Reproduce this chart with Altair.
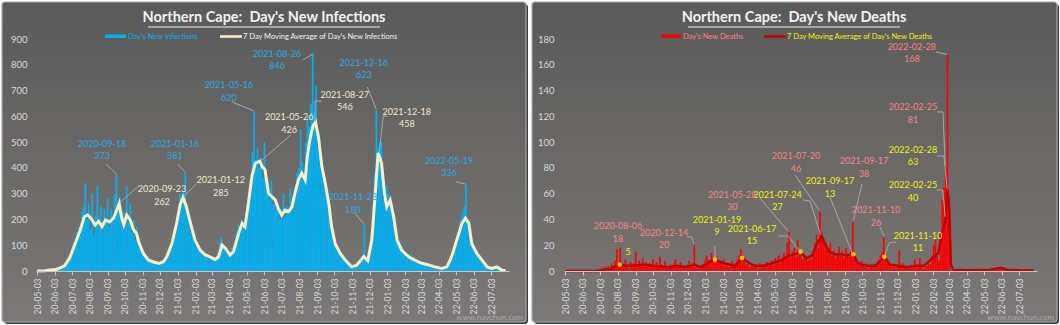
import altair as alt
import pandas as pd

START = pd.Timestamp("2020-05-03")
STEP = 3  # days between stored daily samples

month_ticks = ["2020-05-03", "2020-06-03", "2020-07-03", "2020-08-03", "2020-09-03", "2020-10-03",
               "2020-11-03", "2020-12-03", "2021-01-03", "2021-02-03", "2021-03-03", "2021-04-03",
               "2021-05-03", "2021-06-03", "2021-07-03", "2021-08-03", "2021-09-03", "2021-10-03",
               "2021-11-03", "2021-12-03", "2022-01-03", "2022-02-03", "2022-03-03", "2022-04-03",
               "2022-05-03", "2022-06-03", "2022-07-03"]

# Day's new infections (one sample every STEP days from START)
inf_new = [0, 0, 1, 2, 1, 3, 2, 4, 3, 5,
           4, 6, 8, 10, 12, 15, 20, 28, 40, 60,
           80, 110, 95, 150, 170, 140, 230, 250, 340, 200,
           260, 160, 300, 140, 220, 330, 170, 250, 150, 240,
           200, 280, 170, 240, 210, 300, 373, 250, 290, 180,
           230, 170, 330, 190, 260, 150, 200, 120, 170, 130,
           90, 70, 60, 55, 45, 40, 35, 38, 30, 28,
           25, 35, 30, 40, 45, 60, 55, 80, 100, 130,
           140, 180, 210, 300, 260, 310, 381, 240, 200, 150,
           170, 120, 110, 90, 100, 70, 75, 60, 65, 50,
           60, 45, 50, 40, 55, 70, 110, 130, 90, 80,
           70, 60, 75, 90, 80, 120, 160, 180, 150, 200,
           180, 200, 260, 290, 350, 460, 620, 430, 480, 400,
           440, 360, 500, 330, 300, 280, 350, 260, 290, 240,
           260, 200, 240, 300, 210, 250, 230, 320, 270, 240,
           320, 380, 400, 550, 420, 360, 500, 600, 560, 650,
           846, 620, 720, 480, 520, 400, 380, 320, 300, 260,
           200, 160, 120, 110, 80, 70, 60, 50, 45, 35,
           30, 25, 15, 20, 18, 25, 30, 20, 35, 40,
           180, 45, 50, 80, 140, 260, 380, 623, 480, 500,
           500, 280, 250, 330, 300, 260, 220, 180, 140, 110,
           120, 90, 100, 70, 75, 60, 50, 65, 45, 40,
           40, 35, 30, 38, 25, 30, 22, 25, 20, 18,
           15, 12, 14, 10, 8, 12, 10, 15, 20, 25,
           40, 60, 80, 110, 150, 140, 200, 230, 250, 336,
           180, 200, 130, 110, 80, 70, 55, 50, 40, 35,
           25, 20, 15, 12, 10, 8, 12, 15, 10, 8,
           6, 5, 3]

# 7-day moving average of infections (day offset from START, value)
inf_ma_days = [0, 14, 22, 33, 40, 48, 57, 66, 75, 82,
               88, 94, 101, 107, 113, 119, 126, 133, 138, 143,
               147, 151, 156, 162, 168, 173, 177, 185, 194, 203,
               212, 220, 226, 235, 243, 249, 254, 260, 266, 275,
               284, 293, 301, 310, 316, 322, 328, 336, 342, 351,
               357, 362, 368, 374, 380, 388, 392, 397, 403, 409,
               415, 420, 426, 432, 438, 444, 449, 455, 461, 467,
               470, 474, 478, 481, 485, 490, 496, 502, 508, 513,
               519, 528, 537, 548, 557, 564, 569, 576, 583, 589,
               594, 600, 605, 609, 615, 621, 627, 635, 647, 658,
               670, 682, 693, 705, 714, 722, 731, 740, 746, 752,
               757, 766, 775, 784, 792, 801, 810, 816]
inf_ma_vals = [0, 1, 4, 6, 12, 21, 52, 105, 158, 210,
               218, 204, 178, 192, 172, 198, 190, 205, 232, 262,
               208, 180, 217, 198, 160, 146, 112, 68, 42, 35,
               29, 36, 56, 107, 185, 256, 285, 250, 195, 120,
               81, 62, 55, 45, 55, 101, 88, 62, 75, 146,
               185, 172, 262, 366, 418, 426, 405, 392, 301, 288,
               275, 243, 217, 236, 230, 249, 301, 353, 379, 353,
               431, 495, 540, 565, 578, 521, 405, 340, 262, 172,
               107, 68, 42, 16, 23, 42, 56, 40, 120, 301,
               458, 418, 301, 249, 275, 211, 120, 81, 55, 42,
               30, 23, 16, 10, 16, 55, 120, 185, 205, 185,
               107, 68, 42, 16, 10, 16, 3, 2]

# Day's new deaths (one sample every STEP days from START)
dth_new = [0, 0, 0, 0, 0, 0, 0, 0, 0, 0,
           0, 0, 0, 0, 0, 0, 0, 0, 0, 1,
           0, 2, 1, 3, 0, 4, 2, 6, 3, 8,
           17, 4, 18, 6, 3, 9, 5, 2, 7, 4,
           6, 15, 3, 8, 5, 10, 4, 7, 3, 6,
           5, 9, 3, 7, 4, 11, 5, 3, 8, 4,
           2, 5, 3, 6, 9, 4, 3, 7, 2, 4,
           3, 5, 8, 4, 6, 20, 3, 2, 4, 3,
           5, 8, 12, 9, 7, 14, 10, 6, 11, 8,
           7, 5, 9, 4, 6, 3, 5, 8, 4, 6,
           9, 12, 17, 10, 8, 5, 6, 3, 4, 5,
           3, 5, 2, 6, 4, 3, 5, 7, 4, 6,
           8, 5, 10, 7, 12, 6, 9, 14, 11, 22,
           30, 12, 15, 18, 11, 24, 16, 13, 9, 12,
           10, 8, 12, 9, 14, 22, 28, 18, 46, 30,
           25, 20, 18, 15, 22, 12, 16, 10, 14, 19,
           12, 15, 10, 18, 14, 11, 16, 38, 10, 8,
           6, 5, 8, 4, 3, 6, 2, 4, 5, 3,
           4, 6, 9, 12, 15, 26, 8, 10, 5, 4,
           3, 5, 2, 4, 16, 3, 6, 2, 4, 3,
           2, 4, 3, 9, 5, 3, 10, 4, 2, 3,
           4, 6, 5, 12, 20, 24, 12, 8, 30, 55,
           65, 81, 168, 45, 1, 0, 1, 0, 1, 0,
           0, 1, 0, 0, 1, 0, 0, 1, 0, 0,
           0, 1, 0, 1, 0, 1, 1, 0, 1, 1,
           2, 1, 3, 2, 1, 0, 1, 1, 0, 1,
           0, 1, 0, 0, 1, 0, 0, 0, 1, 0,
           0, 0, 0]

dth_ma_days = [0, 55, 65, 80, 90, 95, 105, 120, 135, 150,
               165, 180, 195, 210, 225, 235, 245, 255, 261, 270,
               285, 295, 305, 308, 318, 330, 345, 360, 375, 390,
               400, 410, 420, 430, 440, 447, 452, 460, 470, 480,
               490, 502, 510, 525, 540, 550, 556, 565, 580, 595,
               610, 625, 640, 650, 657, 663, 666, 669, 672, 676,
               700, 740, 758, 770, 790, 816]
dth_ma_vals = [0, 0, 1, 2, 4, 5, 4, 4, 5, 4,
               3.5, 3, 4, 3, 5, 3, 5, 8, 9, 7,
               5, 4, 8, 10, 7, 4, 4, 6, 8, 12,
               13, 15, 10, 12, 22, 27, 22, 15, 13, 13,
               12, 13, 6, 4, 4, 8, 11, 5, 4, 3,
               4, 4, 10, 14, 30, 40, 63, 50, 5, 1,
               0.5, 1, 2.5, 1, 0.5, 0.3]

# highlighted moving-average points on the deaths chart
dth_dot_days = [95, 261, 308, 410, 502, 556]
dth_dot_vals = [5, 9, 10, 15, 13, 11]

# annotations: date text, value text, series, text position (day, value)
inf_ann_dates = ["2020-09-18", "2020-09-23", "2021-01-16", "2021-01-12", "2021-05-16", "2021-05-26",
                 "2021-08-26", "2021-08-27", "2021-12-16", "2021-12-18", "2021-11-23", "2022-05-19"]
inf_ann_vals = ["373", "262", "381", "285", "620", "426", "846", "546", "623", "458", "180", "336"]
inf_ann_kind = ["new", "ma", "new", "ma", "new", "ma", "new", "ma", "new", "ma", "new", "new"]
inf_ann_tx = [113, 217.5, 240, 320, 334, 439, 418, 536, 569, 644, 550, 717.5]
inf_ann_ty = [493, 318, 493, 353, 721, 597, 842, 683, 807, 617, 287, 427]

inf_lead_x = [120, 144, 245, 256, 339, 392, 463, 484, 484, 575, 596, 603, 552, 730]
inf_lead_y = [415, 265, 415, 291, 656, 431, 819, 580, 659, 714, 462, 600, 229, 346]
inf_lead_x2 = [139, 177, 258, 277, 377, 442, 479, 484, 496, 591, 603, 610, 569, 746]
inf_lead_y2 = [374, 330, 383, 337, 622, 528, 840, 659, 659, 626, 600, 600, 183, 337]

dth_ann_dates = ["2022-02-28", "2022-02-25", "2022-02-28", "2022-02-25", "2021-11-10", "2021-11-10",
                 "2021-09-17", "2021-09-17", "2021-07-20", "2021-07-24", "2021-05-28", "2021-06-17",
                 "2021-01-19", "2020-12-14", "2020-08-06", ""]
dth_ann_vals = ["168", "81", "63", "40", "26", "11", "38", "13", "46", "27", "30", "15", "9", "20", "18", "5"]
dth_ann_kind = ["new", "new", "ma", "ma", "new", "ma", "new", "ma", "new", "ma", "new", "ma",
                "ma", "new", "new", "ma"]
dth_ann_tx = [604, 606, 606, 606, 541.5, 614.7, 520.6, 461.4, 402.2, 370, 291, 325.5, 264.5, 172.2, 92, 109.5]
dth_ann_ty = [173.8, 127.2, 93.9, 66.7, 47.3, 27.2, 85.3, 69.8, 89.2, 59, 59, 32.6, 39.6, 29.5, 34.9, 24.1]

dth_lead_x = [646, 647.7, 658.2, 647.7, 660, 647.7, 658, 548.5, 576.4, 564.2, 517.2, 461.4, 400.5,
              414.4, 426.6, 339.5, 370.7, 388.2, 261, 212.3, 221]
dth_lead_y = [170, 123.4, 123.4, 89.2, 89.2, 62.8, 62.8, 34.1, 22.5, 21.7, 67.5, 57.4, 74.5,
              55.1, 54.3, 56.6, 27.2, 27.2, 19.4, 26.4, 26.4]
dth_lead_x2 = [665, 658.2, 662, 660, 665.3, 658, 662, 556, 564.2, 557, 502, 500, 443,
               426.6, 445, 388, 388.2, 408, 261, 221, 224]
dth_lead_y2 = [168, 123.4, 82, 89.2, 64.4, 62.8, 42, 27, 21.7, 12, 39, 14, 47,
               54.3, 28, 31, 27.2, 16, 10, 26.4, 21]

# ---------------------------------------------------------------- styling
FONT = "Lato"
W, H = 473, 232
XS = alt.Scale(domain=[-2, 822], nice=False, zero=False)
tick_days = [int((pd.Timestamp(d) - START).days) for d in month_ticks]
XAXIS = alt.Axis(values=tick_days,
                 labelExpr="timeFormat(datetime(2020, 4, 3 + datum.value), '%y-%m-%d')",
                 labelAngle=270, labelOverlap=False, labelFlush=False, labelFont=FONT,
                 labelFontSize=8.5, labelColor="#d9d9d9", labelPadding=3, domainColor="#c8c8c8",
                 tickColor="#c8c8c8", tickSize=4, grid=False, title=None, zindex=2)
one = pd.DataFrame({"k": [0]})

BLUE, CREAM = "#00b0f0", "#fbefc8"
RED, DARKRED = "#ff0000", "#c00000"
ANN_INF = {"new": "#27aae6", "ma": "#f4e8c8"}
ANN_DTH = {"new": "#ff8080", "ma": "#f2f200"}
GRAD = alt.LinearGradient(gradient="linear", x1=0, x2=0, y1=0, y2=1,
                          stops=[alt.GradientStop(color="#5a5a5a", offset=0),
                                 alt.GradientStop(color="#7b7877", offset=1)])


def deco_rect(x, x2, y, y2, **kw):
    return alt.Chart(one).mark_rect(**kw).encode(
        x=alt.value(x), x2=alt.value(x2), y=alt.value(y), y2=alt.value(y2))


def deco_text(txt, x, y, **kw):
    return alt.Chart(one).mark_text(text=txt, font=FONT, **kw).encode(x=alt.value(x), y=alt.value(y))


def deco_rule(x, x2, y, color, width):
    return alt.Chart(one).mark_rule(color=color, strokeWidth=width).encode(
        x=alt.value(x), x2=alt.value(x2), y=alt.value(y))


def panel(new_vals, ma_days, ma_vals, ymax, ystep, bar_color, ma_color, ma_width,
          ann, ann_colors, leads, title, title_x, ul, legend, ylabpad, box, shadow,
          frame=False, dots=None):
    ys = alt.Scale(domain=[0, ymax], nice=False, zero=True)
    yaxis = alt.Axis(values=list(range(0, ymax + 1, ystep)), grid=False, domain=False, ticks=False,
                     labelFont=FONT, labelFontSize=9.5, labelColor="#d9d9d9", labelPadding=ylabpad,
                     title=None, zindex=2)
    days = [STEP * i for i in range(len(new_vals))]
    bars = pd.DataFrame({"x0": [d - STEP / 2 for d in days], "x1": [d + STEP / 2 for d in days],
                         "v": new_vals})
    ma = pd.DataFrame({"day": ma_days, "v": ma_vals})
    a_dates, a_vals, a_kind, a_tx, a_ty = ann
    adf = pd.DataFrame({"date": a_dates, "val": a_vals, "tx": a_tx, "ty": a_ty,
                        "col": [ann_colors[k] for k in a_kind]})
    lx, ly, lx2, ly2 = leads
    ldf = pd.DataFrame({"x": lx, "y": ly, "x2": lx2, "y2": ly2})

    layers = []
    if frame:
        layers.append(deco_rect(-36, 1024, -39, 286, fill="white"))
    layers.append(deco_rect(*shadow, fill="#3c3c3c", cornerRadius=3))
    layers.append(deco_rect(*box, fill=GRAD, stroke="#a9a9a9", strokeWidth=1.2, cornerRadius=3))
    layers.append(alt.Chart(bars).mark_rect(color=bar_color).encode(
        x=alt.X("x0:Q", scale=XS, axis=XAXIS), x2="x1:Q",
        y=alt.Y("v:Q", scale=ys, axis=yaxis), y2=alt.datum(0)))
    layers.append(alt.Chart(ma).mark_line(color=ma_color, strokeWidth=ma_width).encode(
        x=alt.X("day:Q", scale=XS, axis=XAXIS), y=alt.Y("v:Q", scale=ys, axis=yaxis)))
    if dots is not None:
        ddf = pd.DataFrame({"day": dots[0], "v": dots[1]})
        layers.append(alt.Chart(ddf).mark_circle(color="#ffc000", size=22, opacity=1).encode(
            x=alt.X("day:Q", scale=XS, axis=XAXIS), y=alt.Y("v:Q", scale=ys, axis=yaxis)))
    layers.append(alt.Chart(ldf).mark_rule(color="#a6a6a6", strokeWidth=1).encode(
        x=alt.X("x:Q", scale=XS, axis=XAXIS), x2="x2:Q",
        y=alt.Y("y:Q", scale=ys, axis=yaxis), y2="y2:Q"))
    layers.append(alt.Chart(adf).mark_text(font=FONT, fontSize=9, align="center", baseline="middle").encode(
        x=alt.X("tx:Q", scale=XS, axis=XAXIS), y=alt.Y("ty:Q", scale=ys, axis=yaxis),
        text="date:N", color=alt.Color("col:N", scale=None)))
    layers.append(alt.Chart(adf).mark_text(font=FONT, fontSize=9, align="center", baseline="middle",
                                           dy=12.5).encode(
        x=alt.X("tx:Q", scale=XS, axis=XAXIS), y=alt.Y("ty:Q", scale=ys, axis=yaxis),
        text="val:N", color=alt.Color("col:N", scale=None)))
    # title with underline
    layers.append(deco_text(title, title_x, -21, fontSize=14.5, fontWeight="bold", color="#f2f2f2",
                            align="center", baseline="middle"))
    layers.append(deco_rule(ul[0], ul[1], -12, "#f2f2f2", 1.2))
    # legend
    (sw_x, sw_x2, sw_col, sw_txt, sw_tcol), (ln_x, ln_x2, ln_col, ln_txt, ln_tcol) = legend
    layers.append(deco_rect(sw_x, sw_x2, -4.5, -1, fill=sw_col))
    layers.append(deco_text(sw_txt, sw_x2 + 2, -2.5, fontSize=7.5, color=sw_tcol, align="left",
                            baseline="middle"))
    layers.append(deco_rule(ln_x, ln_x2, -2.5, ln_col, 2.5))
    layers.append(deco_text(ln_txt, ln_x2 + 1, -2.5, fontSize=7.5, color=ln_tcol, align="left",
                            baseline="middle"))
    layers.append(deco_text("www.navchun.com", box[1] - 3, 279, fontSize=8, color="#a8a8a8",
                            align="right", baseline="middle"))
    return alt.layer(*layers).properties(width=W, height=H)


left = panel(inf_new, inf_ma_days, inf_ma_vals, 900, 100, BLUE, CREAM, 3,
             (inf_ann_dates, inf_ann_vals, inf_ann_kind, inf_ann_tx, inf_ann_ty), ANN_INF,
             (inf_lead_x, inf_lead_y, inf_lead_x2, inf_lead_y2),
             "Northern Cape:\u00a0\u00a0Day's New Infections", 228, (112, 344),
             ((69, 90, BLUE, "Day's New Infections", BLUE),
              (184, 206, CREAM, "7 Day Moving Average of Day's New Infections", "#f2f2f2")),
             9, (-34, 490, -37, 283), (-32, 492, -35, 285), frame=True)

right = panel(dth_new, dth_ma_days, dth_ma_vals, 180, 20, RED, DARKRED, 2.5,
              (dth_ann_dates, dth_ann_vals, dth_ann_kind, dth_ann_tx, dth_ann_ty), ANN_DTH,
              (dth_lead_x, dth_lead_y, dth_lead_x2, dth_lead_y2),
              "Northern Cape:\u00a0\u00a0Day's New Deaths", 230, (124, 336),
              ((97, 117, RED, "Day's New Deaths", "#ff8080"),
               (200, 222, DARKRED, "7 Day Moving Average of Day's New Deaths", "#f2f200")),
              10, (-32, 493, -37, 283), (-30, 495, -35, 285),
              dots=(dth_dot_days, dth_dot_vals))

chart = alt.hconcat(left, right, spacing=55, bounds="flush").properties(
    padding=0, background="white").configure_view(stroke=None)

chart.save("out.html", embed_options={"renderer": "svg", "actions": False})
